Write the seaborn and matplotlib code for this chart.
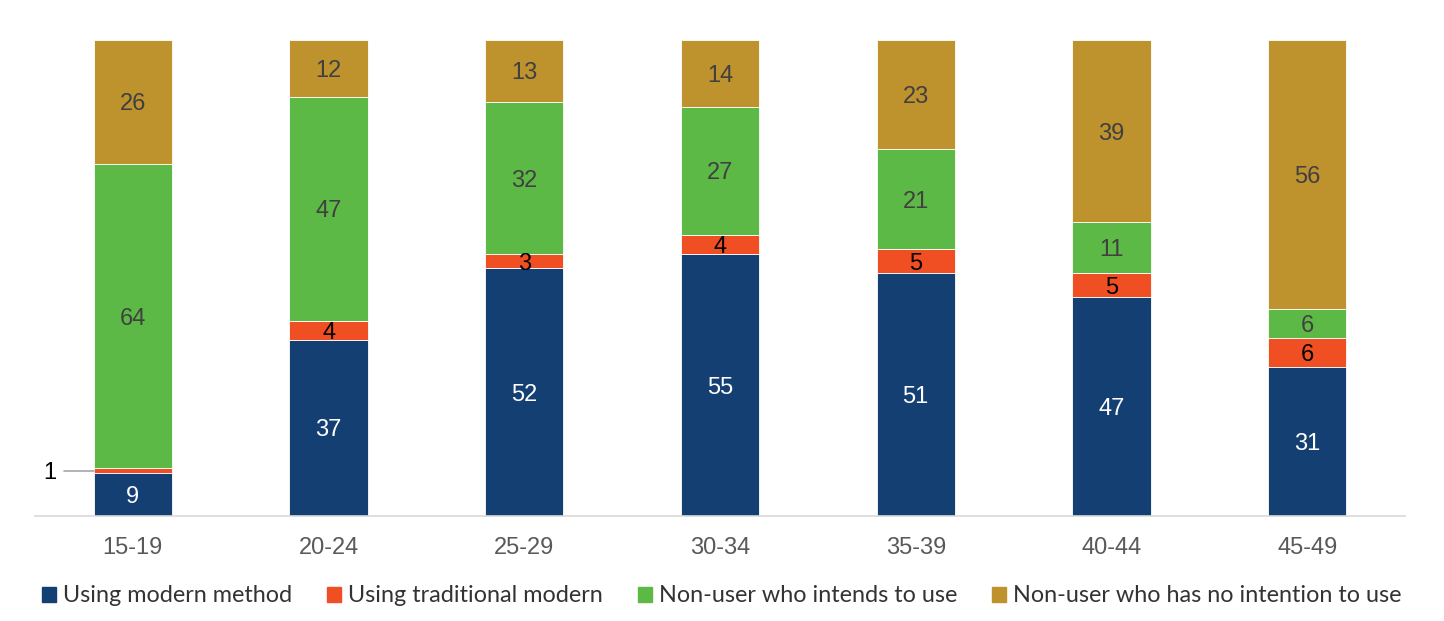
import numpy as np
import pandas as pd
import matplotlib.pyplot as plt
import seaborn as sns

sns.set_style("white")
plt.rcParams['font.family'] = ['Liberation Sans', 'DejaVu Sans']

# data
ages = ['15-19', '20-24', '25-29', '30-34', '35-39', '40-44', '45-49']
modern = [9, 37, 52, 55, 51, 47, 31]
traditional = [1, 4, 3, 4, 5, 5, 6]
intends = [64, 47, 32, 27, 21, 11, 6]
no_intention = [26, 12, 13, 14, 23, 39, 56]

series = ['Using modern method', 'Using traditional modern',
          'Non-user who intends to use', 'Non-user who has no intention to use']
colors = ['#143F73', '#F04E23', '#5CB946', '#BE922D']
text_colors = ['white', 'black', '#404040', '#404040']

raw = pd.DataFrame({series[0]: modern, series[1]: traditional,
                    series[2]: intends, series[3]: no_intention}, index=ages)
# chart is a 100% stacked column
share = raw.div(raw.sum(axis=1), axis=0) * 100

fig = plt.figure(figsize=(14.44, 6.21), dpi=100)
ax = fig.add_axes([35 / 1444, 1 - 516 / 621, 1370 / 1444, 476 / 621])

bottom = np.zeros(len(ages))
for s, c, tc in zip(series, colors, text_colors):
    df = pd.DataFrame({'age': ages, 'val': share[s].values})
    sns.barplot(data=df, x='age', y='val', color=c, saturation=1, width=0.4,
                bottom=bottom, edgecolor='white', linewidth=0.6, ax=ax)
    for i, (v, r) in enumerate(zip(share[s].values, raw[s].values)):
        if s == series[1] and r == 1:
            # tiny segment gets a leader line
            ax.plot([-0.35, -0.2], [bottom[i] + v / 2] * 2, color='#a6a6a6', lw=1.2)
            ax.text(-0.39, bottom[i] + v / 2, str(r), ha='right', va='center_baseline',
                    fontsize=17, color='black')
        else:
            ax.text(i, bottom[i] + v / 2, str(r), ha='center', va='center_baseline',
                    fontsize=17, color=tc)
    bottom += share[s].values

ax.set_xlim(-0.5, 6.5)
ax.set_ylim(0, 100)
ax.set_xlabel('')
ax.set_ylabel('')
ax.set_yticks([])
ax.tick_params(axis='x', length=0, labelsize=17, labelcolor='#595959', pad=15)
for sp in ['top', 'right', 'left']:
    ax.spines[sp].set_visible(False)
ax.spines['bottom'].set_color('#d9d9d9')
ax.spines['bottom'].set_linewidth(1.2)

handles = [plt.Rectangle((0, 0), 1, 1, color=c) for c in colors]
leg = fig.legend(handles, series, loc='center', bbox_to_anchor=(0.5, 1 - 596 / 621),
                 ncol=4, frameon=False, handlelength=0.6, handleheight=0.6,
                 handletextpad=0.3, columnspacing=1.5,
                 prop={'family': ['Lato', 'DejaVu Sans'], 'size': 16.8})
for t in leg.get_texts():
    t.set_color('#333333')

fig.savefig('out.png', dpi=100)
